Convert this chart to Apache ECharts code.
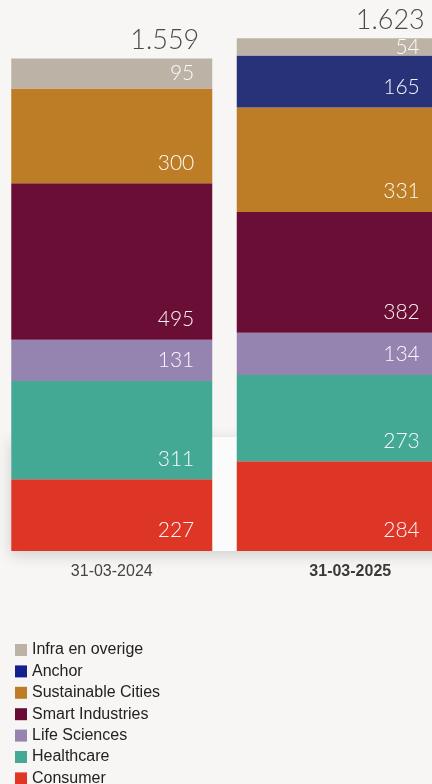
<!DOCTYPE html>
<html>
<head>
<meta charset="utf-8">
<script src="https://cdn.jsdelivr.net/npm/echarts@6/dist/echarts.min.js"></script>
<style>
html,body{margin:0;padding:0;background:#f7f6f4;overflow:hidden;width:432px;height:784px;}
#c{position:absolute;left:-1px;top:0;width:451px;height:784px;}
</style>
</head>
<body>
<div id="c"></div>
<script>
const categories = ['31-03-2024', '31-03-2025'];
const consumer = [227, 284];
const healthcare = [311, 273];
const lifeSciences = [131, 134];
const smartIndustries = [495, 382];
const sustainableCities = [300, 331];
const anchor = [null, 165];
const infra = [95, 54];

const seriesDefs = [
  { name: 'Consumer', data: consumer, color: '#de3626', legendColor: '#e03626' },
  { name: 'Healthcare', data: healthcare, color: '#44a994', legendColor: '#45a995' },
  { name: 'Life Sciences', data: lifeSciences, color: '#9684b0', legendColor: '#9783b0' },
  { name: 'Smart Industries', data: smartIndustries, color: '#6b0e36', legendColor: '#6a0b35' },
  { name: 'Sustainable Cities', data: sustainableCities, color: '#bd7d27', legendColor: '#bf7c27' },
  { name: 'Anchor', data: anchor, color: '#283278', legendColor: '#13208e' },
  { name: 'Infra en overige', data: infra, color: '#bcb2a5', legendColor: '#bcb3a6' }
];

const totals = categories.map((_, i) => seriesDefs.reduce((s, d) => s + (d.data[i] || 0), 0));
const fmt = v => String(v).replace(/\B(?=(\d{3})+(?!\d))/g, '.');

const numFont = 'Lato';

const series = seriesDefs.map(d => ({
  name: d.name,
  type: 'bar',
  stack: 'total',
  barWidth: 201,
  itemStyle: { color: d.color, borderWidth: 0 },
  z: 3,
  data: d.data.map(v => v == null ? null : {
    value: v,
    label: v < 150
      ? { position: 'insideRight', distance: 18 }
      : { position: 'insideBottomRight', distance: 10, offset: [-8, 0] }
  }),
  label: {
    show: true,
    color: 'rgba(255,255,255,0.95)',
    fontFamily: numFont,
    fontWeight: 300,
    fontSize: 21
  }
}));

series.push({
  name: 'total',
  type: 'bar',
  stack: 'total',
  barWidth: 201,
  z: 3,
  itemStyle: { color: 'rgba(0,0,0,0)' },
  data: totals.map(() => 0),
  label: {
    show: true,
    position: 'insideBottomRight',
    distance: 5,
    offset: [-8, 0],
    formatter: p => fmt(totals[p.dataIndex]),
    color: '#4a4a4a',
    fontFamily: numFont,
    fontWeight: 300,
    fontSize: 27
  }
});

const chart = echarts.init(document.getElementById('c'), null, { renderer: 'canvas' });
chart.setOption({
  backgroundColor: '#f7f6f4',
  animation: false,
  graphic: [{
    type: 'rect',
    z: 0,
    shape: { x: 12, y: 437, width: 460, height: 114 },
    style: { fill: '#fbfbfb', shadowBlur: 14, shadowColor: 'rgba(0,0,0,0.16)', shadowOffsetY: 4 }
  }],
  grid: { left: 0, right: 0, top: 14, bottom: 233, containLabel: false },
  xAxis: {
    type: 'category',
    data: categories,
    axisLine: { show: false },
    axisTick: { show: false },
    axisLabel: {
      margin: 13,
      fontSize: 16,
      color: '#3f3f3f',
      fontFamily: 'Liberation Sans',
      formatter: (v, i) => i === 1 ? '{b|' + v + '}' : '{n|' + v + '}',
      rich: {
        n: { fontSize: 16, color: '#444', fontFamily: 'Liberation Sans' },
        b: { fontSize: 16, color: '#3a3a3a', fontWeight: 'bold', fontFamily: 'Liberation Sans', padding: [0, 0, 0, 26] }
      }
    }
  },
  yAxis: {
    type: 'value',
    min: 0,
    max: 1700,
    show: false,
    splitLine: { show: false }
  },
  legend: {
    orient: 'vertical',
    left: 11,
    top: 637,
    height: 200,
    itemWidth: 12,
    itemHeight: 12,
    itemGap: 5.4,
    icon: 'rect',
    selectedMode: false,
    textStyle: { fontSize: 16, color: '#222', fontFamily: 'Liberation Sans' },
    data: seriesDefs.slice().reverse().map(d => ({ name: d.name, itemStyle: { color: d.legendColor } }))
  },
  series: series
});
</script>
</body>
</html>
